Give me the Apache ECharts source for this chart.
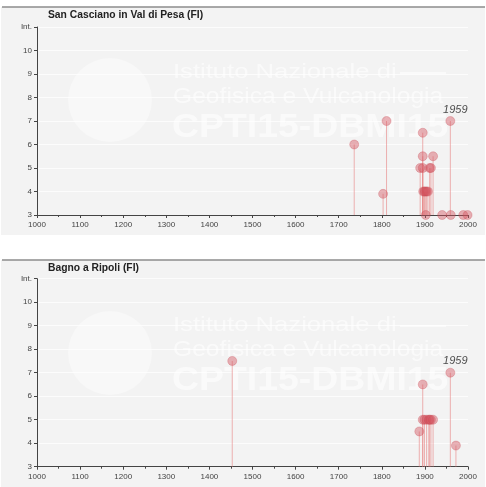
<!DOCTYPE html>
<html><head><meta charset="utf-8">
<script src="https://cdn.jsdelivr.net/npm/echarts@6/dist/echarts.min.js"></script>
<style>html,body{margin:0;padding:0;background:#fff}#c{width:486px;height:487px}</style>
</head><body><div id="c"></div>
<script>
// ---- data ----
const titles = ['San Casciano in Val di Pesa (FI)', 'Bagno a Ripoli (FI)'];
const sanYears = [1736, 1803, 1811, 1889, 1895, 1895, 1895, 1896, 1899, 1901, 1904, 1907, 1902, 1911, 1914, 1919, 1940, 1959, 1960, 1989, 1999];
const sanInt   = [6,    3.9,  7,    5,    6.5,  5.5,  5,    4,    4,    4,    4,    4,    3,    5,    5,    5.5,  3,    7,    3,    3,    3];
const bagYears = [1453, 1887, 1895, 1895, 1899, 1904, 1909, 1911, 1914, 1919, 1959, 1972];
const bagInt   = [7.5,  4.5,  6.5,  5,    5,    5,    5,    5,    5,    5,    7,    3.9];
const labelYear = 1959;
const labelInt = 7;
const xTicks = [1000, 1100, 1200, 1300, 1400, 1500, 1600, 1700, 1800, 1900, 2000];
const yTicks = [3, 4, 5, 6, 7, 8, 9, 10, 'Int.'];

const FONT = 'Liberation Sans, Arial, sans-serif';
const chart = echarts.init(document.getElementById('c'), null, {renderer: 'canvas'});

const panelTop = [7, 260];
const gridTop = [27, 278.7];
const gridH = 188;

function pts(years, ints) {
  return years.map((y, i) => {
    const d = {value: [y, ints[i]]};
    if (y === labelYear && ints[i] === labelInt) {
      d.label = {show: true, formatter: String(labelYear), position: 'top', distance: 1, offset: [5, 0],
        fontStyle: 'italic', fontSize: 11, color: '#222', fontFamily: FONT};
    }
    return d;
  });
}

const WM = 'rgba(255,255,255,0.6)';
const grids = [], xAxes = [], yAxes = [], series = [], graphics = [];
[[sanYears, sanInt], [bagYears, bagInt]].forEach((pair, k) => {
  const pt = panelTop[k];
  graphics.push({type: 'rect', z: -10, shape: {x: 1, y: pt, width: 484, height: 228}, style: {fill: '#f3f3f3'}});
  graphics.push({type: 'line', z: -9, shape: {x1: 2, y1: pt, x2: 485, y2: pt}, style: {stroke: '#8c8c8c', lineWidth: 1.5}});
  // watermark
  graphics.push({type: 'circle', z: -8, shape: {cx: 110, cy: pt + 93, r: 42}, style: {fill: 'rgba(255,255,255,0.4)'}});
  graphics.push({type: 'text', z: -8, x: 173, y: pt + 65, scaleX: 1.22, style: {text: 'Istituto Nazionale di', fill: WM, font: '21px ' + FONT, verticalAlign: 'middle'}});
  graphics.push({type: 'line', z: -8, shape: {x1: 400, y1: pt + 66, x2: 446, y2: pt + 66}, style: {stroke: WM, lineWidth: 2}});
  graphics.push({type: 'text', z: -8, x: 173, y: pt + 90, scaleX: 1.12, style: {text: 'Geofisica e Vulcanologia', fill: WM, font: '22px ' + FONT, verticalAlign: 'middle'}});
  graphics.push({type: 'text', z: -8, x: 172, y: pt + 121, scaleX: 1.1, style: {text: 'CPTI15-DBMI15', fill: WM, font: 'bold 34px ' + FONT, verticalAlign: 'middle'}});
  // title
  graphics.push({type: 'text', z: 5, x: 48, y: pt + 8, style: {text: titles[k], fill: '#222', font: 'bold 10.3px ' + FONT, verticalAlign: 'middle'}});

  grids.push({left: 37, right: 18, top: gridTop[k], height: gridH, containLabel: false});
  xAxes.push({
    type: 'value', gridIndex: k, min: xTicks[0], max: xTicks[xTicks.length - 1], interval: 100,
    axisLine: {show: true, onZero: false, lineStyle: {color: '#444', width: 1}},
    axisTick: {show: true, length: 3, lineStyle: {color: '#444'}},
    minorTick: {show: true, splitNumber: 2, length: 2, lineStyle: {color: '#444'}},
    splitLine: {show: false},
    axisLabel: {fontSize: 8, color: '#444', fontFamily: FONT, margin: 6, formatter: v => String(v)}
  });
  yAxes.push({
    type: 'value', gridIndex: k, min: 3, max: 11, interval: 1,
    axisLine: {show: true, lineStyle: {color: '#444', width: 1}},
    axisTick: {show: true, length: 3, lineStyle: {color: '#444'}},
    splitLine: {show: true, lineStyle: {color: 'rgba(255,255,255,0.7)', width: 1}},
    axisLabel: {fontSize: 8, color: '#444', fontFamily: FONT, margin: 5,
      formatter: v => String(yTicks[v - 3])}
  });
  series.push({
    type: 'custom', xAxisIndex: k, yAxisIndex: k, z: 2,
    data: pair[0].map((y, i) => [y, pair[1][i]]),
    renderItem: (params, api) => {
      const top = api.coord([api.value(0), api.value(1)]);
      const bot = api.coord([api.value(0), 3]);
      return {type: 'line', shape: {x1: top[0], y1: top[1], x2: bot[0], y2: bot[1]},
        style: {stroke: 'rgba(232,130,130,0.6)', lineWidth: 1}};
    }
  });
  series.push({
    type: 'scatter', xAxisIndex: k, yAxisIndex: k, z: 3, symbolSize: 9,
    itemStyle: {color: 'rgba(212,85,95,0.55)', borderColor: 'rgba(200,70,80,0.45)', borderWidth: 0.8},
    data: pts(pair[0], pair[1])
  });
});

chart.setOption({
  backgroundColor: '#ffffff',
  animation: false,
  grid: grids, xAxis: xAxes, yAxis: yAxes, series: series,
  graphic: graphics
});
</script></body></html>
